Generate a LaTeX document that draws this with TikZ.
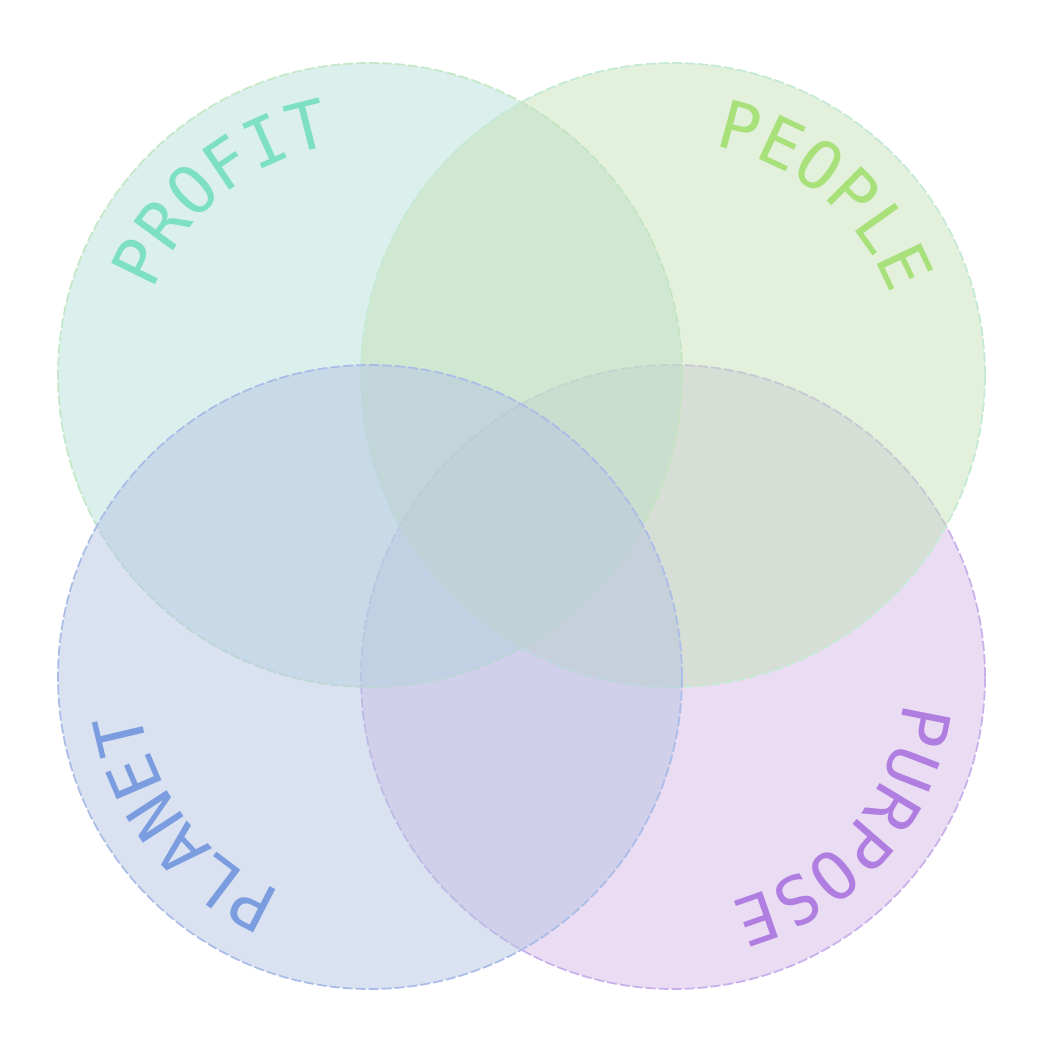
\documentclass[tikz,border=0pt]{standalone}
\usepackage{fontspec}
\setmonofont{DejaVu Sans Mono}
\usetikzlibrary{decorations.text}
\definecolor{profitfill}{RGB}{183, 223, 217}
\definecolor{peoplefill}{RGB}{197, 225, 185}
\definecolor{planetfill}{RGB}{182, 196, 226}
\definecolor{purposefill}{RGB}{213, 185, 229}
\definecolor{profitline}{RGB}{196, 232, 200}
\definecolor{peopleline}{RGB}{196, 234, 214}
\definecolor{planetline}{RGB}{170, 188, 232}
\definecolor{purposeline}{RGB}{200, 176, 236}
\definecolor{profittext}{RGB}{125, 223, 195}
\definecolor{peopletext}{RGB}{168, 224, 122}
\definecolor{planettext}{RGB}{123, 157, 224}
\definecolor{purposetext}{RGB}{176, 125, 224}

\begin{document}
\begin{tikzpicture}[
    ring/.style={
        circle,
        minimum size=6.24cm,
        inner sep=0pt,
        outer sep=0pt,
        fill opacity=0.5,
        line width=0.5pt,
        dash pattern=on 0.1cm off 0.03cm
    }
]
\useasboundingbox (0,0) rectangle (10.5,10.5);

\node[ring, fill=purposefill, draw=purposeline] (purpose) at (6.73,3.73) {};
\node[ring, fill=profitfill, draw=profitline] (profit) at (3.70,6.75) {};
\node[ring, fill=peoplefill, draw=peopleline] (people) at (6.73,6.75) {};
\node[ring, fill=planetfill, draw=planetline] (planet) at (3.70,3.73) {};

% words on the rims
\path[decorate, decoration={text along path, text align=center,
    text={|\color{profittext}\ttfamily\fontsize{19pt}{19pt}\selectfont|PROFIT}}]
    ([shift={(169:2.32)}]profit.center) arc[start angle=169, end angle=89, radius=2.32];
\path[decorate, decoration={text along path, text align=center,
    text={|\color{peopletext}\ttfamily\fontsize{19pt}{19pt}\selectfont|PEOPLE}}]
    ([shift={(90:2.32)}]people.center) arc[start angle=90, end angle=10, radius=2.32];
\path[decorate, decoration={text along path, text align=center,
    text={|\color{planettext}\ttfamily\fontsize{19pt}{19pt}\selectfont|PLANET}}]
    ([shift={(258:2.32)}]planet.center) arc[start angle=258, end angle=178, radius=2.32];
\path[decorate, decoration={text along path, text align=center,
    text={|\color{purposetext}\ttfamily\fontsize{19pt}{19pt}\selectfont|PURPOSE}}]
    ([shift={(-1:2.32)}]purpose.center) arc[start angle=-1, end angle=-81, radius=2.32];

\end{tikzpicture}
\end{document}
